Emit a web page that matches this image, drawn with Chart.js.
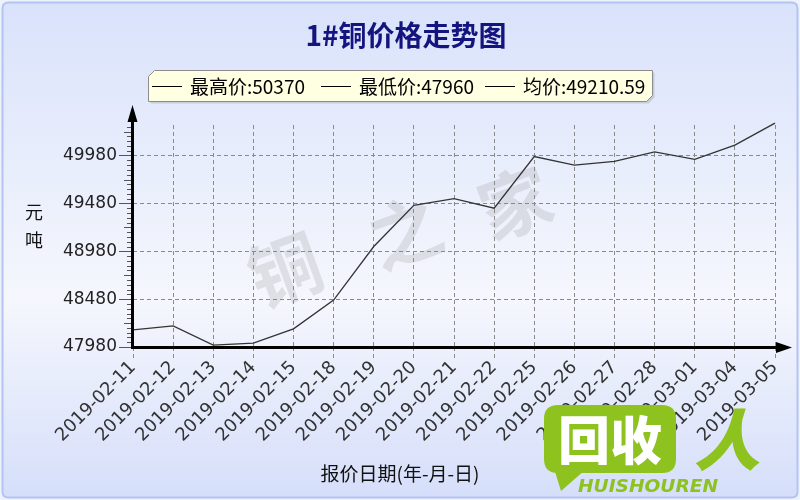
<!DOCTYPE html>
<html><head><meta charset="utf-8">
<script src="https://cdn.jsdelivr.net/npm/chart.js@4"></script>
<style>html,body{margin:0;padding:0;background:#fff;}canvas{display:block;}</style>
</head><body>
<canvas id="c" width="800" height="500"></canvas>
<script>
const chartTitle = '1#铜价格走势图';
const categories = ['2019-02-11','2019-02-12','2019-02-13','2019-02-14','2019-02-15','2019-02-18','2019-02-19','2019-02-20','2019-02-21','2019-02-22','2019-02-25','2019-02-26','2019-02-27','2019-02-28','2019-03-01','2019-03-04','2019-03-05'];
const prices = [48160, 48200, 48000, 48020, 48170, 48470, 49030, 49460, 49530, 49430, 49970, 49880, 49920, 50020, 49940, 50090, 50320];
const yTickValues = [47980, 48480, 48980, 49480, 49980];
const yMin = 47980, yMax = 50300, yMinorStep = 50;
const legendNames = ['最高价', '最低价', '均价'];
const legendValues = ['50370', '47960', '49210.59'];
const yAxisTitle = ['元', '吨'];
const xAxisTitle = '报价日期(年-月-日)';
const watermarkChars = ['铜', '之', '家'];
const logoText = ['回收', '人', 'HUISHOUREN'];

const CJK = '"Noto Sans CJK SC"';
const LAT = '"DejaVu Sans"';

function roundRect(ctx, x, y, w, h, r) {
  ctx.beginPath();
  ctx.moveTo(x + r, y);
  ctx.lineTo(x + w - r, y); ctx.quadraticCurveTo(x + w, y, x + w, y + r);
  ctx.lineTo(x + w, y + h - r); ctx.quadraticCurveTo(x + w, y + h, x + w - r, y + h);
  ctx.lineTo(x + r, y + h); ctx.quadraticCurveTo(x, y + h, x, y + h - r);
  ctx.lineTo(x, y + r); ctx.quadraticCurveTo(x, y, x + r, y);
  ctx.closePath();
}
function bevelBox(ctx, x, y, w, h, b) {
  ctx.beginPath();
  ctx.moveTo(x + b, y); ctx.lineTo(x + w, y); ctx.lineTo(x + w, y + h - b);
  ctx.lineTo(x + w - b, y + h); ctx.lineTo(x, y + h); ctx.lineTo(x, y + b);
  ctx.closePath();
}

const deco = {
  id: 'deco',
  beforeDraw(chart) {
    const ctx = chart.ctx, W = chart.width, H = chart.height;
    ctx.save();
    ctx.fillStyle = '#eef2fd'; ctx.fillRect(0, 0, W, H);
    const g = ctx.createLinearGradient(0, 0, 0, H);
    g.addColorStop(0, '#d9e2fb'); g.addColorStop(0.6, '#f5f7fd'); g.addColorStop(1, '#d5defa');
    roundRect(ctx, 2.5, 2.5, W - 5, H - 5, 6);
    ctx.fillStyle = g; ctx.fill();
    ctx.strokeStyle = '#b3c4f2'; ctx.lineWidth = 2; ctx.stroke();
    // title
    ctx.fillStyle = '#14147e';
    ctx.font = 'bold 28px ' + CJK;
    ctx.textAlign = 'center'; ctx.textBaseline = 'middle';
    ctx.fillText(chartTitle, 406, 35);
    // watermark
    const wpos = [[285, 270], [405, 232], [515, 203]];
    ctx.fillStyle = 'rgba(165,165,165,0.28)';
    ctx.font = 'bold 72px ' + CJK;
    watermarkChars.forEach((ch, i) => {
      ctx.save(); ctx.translate(wpos[i][0], wpos[i][1]); ctx.rotate(-20 * Math.PI / 180);
      ctx.fillText(ch, 0, 0); ctx.restore();
    });
    ctx.restore();
  },
  afterDraw(chart) {
    const ctx = chart.ctx, a = chart.chartArea, ys = chart.scales.y;
    ctx.save();
    // minor ticks
    ctx.strokeStyle = '#555'; ctx.lineWidth = 1;
    for (let v = yMin; v <= yMax; v += yMinorStep) {
      const k = Math.round((v - yMin) / yMinorStep);
      if (k % 10 === 0) continue;
      const len = (k % 5 === 0) ? 9 : 6;
      const py = Math.round(ys.getPixelForValue(v)) + 0.5;
      ctx.beginPath(); ctx.moveTo(a.left - len, py); ctx.lineTo(a.left, py); ctx.stroke();
    }
    // axes
    ctx.strokeStyle = '#000'; ctx.fillStyle = '#000'; ctx.lineWidth = 3;
    ctx.beginPath(); ctx.moveTo(a.left - 0.5, a.bottom + 0.5); ctx.lineTo(a.right + 3, a.bottom + 0.5); ctx.stroke();
    ctx.beginPath(); ctx.moveTo(a.left - 0.5, a.bottom + 2); ctx.lineTo(a.left - 0.5, a.top - 5); ctx.stroke();
    ctx.beginPath(); ctx.moveTo(a.right + 1, a.bottom - 5); ctx.lineTo(a.right + 17, a.bottom + 0.5); ctx.lineTo(a.right + 1, a.bottom + 6); ctx.closePath(); ctx.fill();
    ctx.beginPath(); ctx.moveTo(a.left - 5.5, a.top - 3); ctx.lineTo(a.left - 0.5, a.top - 20); ctx.lineTo(a.left + 4.5, a.top - 3); ctx.closePath(); ctx.fill();
    // legend box
    ctx.fillStyle = 'rgba(0,0,0,0.12)';
    bevelBox(ctx, 150.5, 72.5, 504, 31, 6); ctx.fill();
    ctx.fillStyle = '#ffffe1'; ctx.strokeStyle = '#8c8c8c'; ctx.lineWidth = 1;
    bevelBox(ctx, 148.5, 70.5, 504, 31, 6); ctx.fill(); ctx.stroke();
    const lx = [152, 321, 485];
    ctx.fillStyle = '#000'; ctx.strokeStyle = '#000'; ctx.lineWidth = 1;
    ctx.textAlign = 'left'; ctx.textBaseline = 'middle';
    ctx.font = '19px ' + CJK;
    legendNames.forEach((n, i) => {
      ctx.beginPath(); ctx.moveTo(lx[i], 86.5); ctx.lineTo(lx[i] + 30, 86.5); ctx.stroke();
      ctx.fillText(n + ':' + legendValues[i], lx[i] + 38, 87);
    });
    // axis titles
    ctx.font = '18px ' + CJK; ctx.textAlign = 'center'; ctx.fillStyle = '#111';
    ctx.fillText(yAxisTitle[0], 34, 212);
    ctx.fillText(yAxisTitle[1], 34, 240);
    ctx.font = '19px ' + CJK;
    ctx.fillText(xAxisTitle, 400, 474);
    // logo
    const green = '#8dc21f';
    ctx.fillStyle = green;
    roundRect(ctx, 544, 405, 132, 68, 14); ctx.fill();
    ctx.beginPath(); ctx.moveTo(552, 462); ctx.lineTo(561, 491); ctx.lineTo(585, 470); ctx.closePath(); ctx.fill();
    ctx.fillStyle = '#fff'; ctx.font = '900 52px ' + CJK; ctx.textAlign = 'center';
    ctx.fillText(logoText[0], 610, 440);
    ctx.fillStyle = green; ctx.font = 'italic 900 66px ' + CJK;
    ctx.fillText(logoText[1], 727, 440);
    ctx.font = 'italic bold 17px ' + LAT;
    const tw = ctx.measureText(logoText[2]).width;
    ctx.save(); ctx.translate(648, 488); ctx.scale(140 / tw, 1.0);
    ctx.fillText(logoText[2], 0, 0); ctx.restore();
    ctx.restore();
  }
};

new Chart(document.getElementById('c'), {
  type: 'line',
  data: {
    labels: categories,
    datasets: [{
      data: prices,
      borderColor: '#333',
      borderWidth: 1.3,
      pointRadius: 0,
      tension: 0,
      fill: false,
      clip: false
    }]
  },
  options: {
    responsive: false,
    animation: false,
    devicePixelRatio: 1,
    layout: { padding: { top: 125, right: 25, left: 0, bottom: 0 } },
    plugins: { legend: { display: false }, title: { display: false }, tooltip: { enabled: false } },
    scales: {
      x: {
        type: 'category',
        offset: false,
        afterFit(s) { s.height = 153; },
        grid: { color: '#8a8a8a', lineWidth: 1, tickLength: 14, tickColor: '#8a8a8a', tickBorderDash: [4, 3] },
        border: { display: false, dash: [4, 3] },
        ticks: { autoSkip: false, minRotation: 45, maxRotation: 45, padding: -4, color: '#333', font: { family: 'DejaVu Sans', size: 18 } }
      },
      y: {
        type: 'linear',
        min: yMin, max: yMax,
        afterFit(s) { s.width = 133; },
        afterBuildTicks(s) { s.ticks = yTickValues.map(v => ({ value: v })); },
        grid: { color: '#8a8a8a', lineWidth: 1, tickLength: 14, tickColor: '#555', tickBorderDash: [] },
        border: { display: false, dash: [4, 3] },
        ticks: { padding: 2, color: '#222', font: { family: 'DejaVu Sans', size: 17 }, callback: v => String(v) }
      }
    }
  },
  plugins: [deco]
});
</script>
</body></html>
